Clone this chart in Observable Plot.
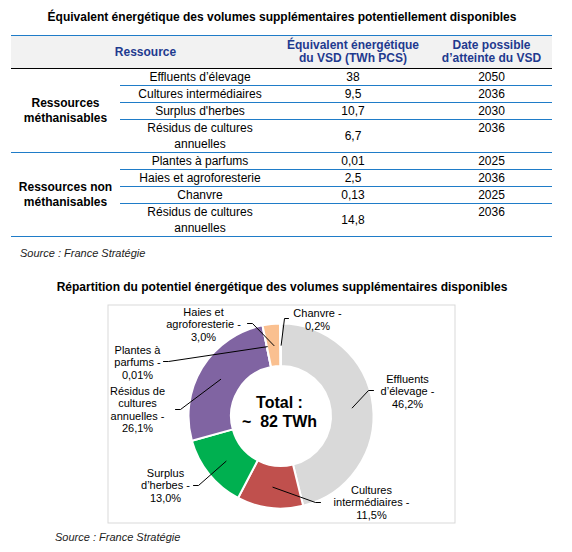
<!DOCTYPE html>
<html>
<head>
<meta charset="utf-8">
<script src="https://cdn.jsdelivr.net/npm/d3@7"></script>
<script src="https://cdn.jsdelivr.net/npm/@observablehq/plot@0.6"></script>
<style>
  body { margin:0; width:572px; height:552px; position:relative; background:#fff;
         font-family: Arial, "Liberation Sans", sans-serif; color:#000; }
  .title { position:absolute; left:0; width:564px; text-align:center; font-weight:bold; font-size:12px; line-height:16px; }
  .source { position:absolute; font-style:italic; font-size:11px; line-height:14px; color:#222; }
  table { position:absolute; left:11px; top:35px; width:541px; border-collapse:separate; border-spacing:0;
          table-layout:fixed; font-size:12px; border-top:1px solid #1f7cc8; }
  th { background:#f2f2f2; color:#1f3a8f; font-weight:bold; height:32px; border-bottom:1px solid #000;
       line-height:13px; padding:0; vertical-align:middle; white-space:pre-line; }
  td { padding:0; line-height:16px; text-align:center; border-bottom:1px solid #1f7cc8; vertical-align:middle; }
  td.grp { font-weight:bold; line-height:15px; white-space:pre-line; }
  td.name { padding:0 7px; }
  td.date { vertical-align:top; padding-left:5px; }
</style>
</head>
<body>
<script>
// ---------- DATA ----------
const tableTitle = "Équivalent énergétique des volumes supplémentaires potentiellement disponibles";
const chartTitle = "Répartition du potentiel énergétique des volumes supplémentaires disponibles";
const sourceText = "Source : France Stratégie";
const headers = ["Ressource", "Équivalent énergétique\ndu VSD (TWh PCS)", "Date possible\nd’atteinte du VSD"];
const groups = ["Ressources\nméthanisables", "Ressources non\nméthanisables"];
const resources = ["Effluents d’élevage", "Cultures intermédiaires", "Surplus d'herbes", "Résidus de cultures annuelles",
                   "Plantes à parfums", "Haies et agroforesterie", "Chanvre", "Résidus de cultures annuelles"];
const resourceGroup = [0, 0, 0, 0, 1, 1, 1, 1];
const vsdTWh = [38, 9.5, 10.7, 6.7, 0.01, 2.5, 0.13, 14.8];
const vsdYear = [2050, 2036, 2030, 2036, 2025, 2036, 2025, 2036];

// donut categories (Résidus = both rows combined)
const pieNames = ["Effluents\nd’élevage", "Cultures\nintermédiaires", "Surplus\nd’herbes", "Résidus de\ncultures\nannuelles",
                  "Plantes à\nparfums", "Haies et\nagroforesterie", "Chanvre"];
const pieRows = [[0], [1], [2], [3, 7], [4], [5], [6]];
const pieColors = ["#d9d9d9", "#c0504d", "#00b050", "#8064a2", "#4bacc6", "#fac090", "#a5a5a5"];

// ---------- LAYOUT (label placement, px relative to donut centre) ----------
const labelPos = [[126, -25], [90, 86], [-116, 69], [-144, -7], [-144, -54], [-78, -92], [36, -97]];
const leaderStart = [[92, -26, -5], [39, 86, -5], [-88, 69, 5], [-106, -7, 5], [-118, -55, 5], [-34, -93, 5], [7, -98, -4]];
const rOuter = 92.5, rInner = 50;

const fmt = v => String(v).replace(".", ",");

// ---------- TITLES / SOURCES ----------
function addDiv(cls, text, style) {
  const d = document.createElement("div");
  d.className = cls; d.textContent = text; Object.assign(d.style, style);
  document.body.appendChild(d); return d;
}
addDiv("title", tableTitle, {top: "9px"});
addDiv("source", sourceText, {left: "20px", top: "246px"});
addDiv("title", chartTitle, {top: "279px"});
addDiv("source", sourceText, {left: "55px", top: "530px"});

// ---------- TABLE ----------
const table = document.createElement("table");
const colgroup = document.createElement("colgroup");
[109, 160, 146, 126].forEach(w => { const c = document.createElement("col"); c.style.width = w + "px"; colgroup.appendChild(c); });
table.appendChild(colgroup);
const thead = document.createElement("tr");
headers.forEach((h, i) => {
  const th = document.createElement("th");
  th.textContent = h;
  if (i === 0) th.colSpan = 2;
  if (i === 2) th.style.paddingLeft = "5px";
  thead.appendChild(th);
});
table.appendChild(thead);
resources.forEach((name, i) => {
  const tr = document.createElement("tr");
  const g = resourceGroup[i];
  if (i === 0 || resourceGroup[i - 1] !== g) {
    const td = document.createElement("td");
    td.className = "grp";
    td.rowSpan = resourceGroup.filter(x => x === g).length;
    td.textContent = groups[g];
    tr.appendChild(td);
  }
  const cells = [[name, "name"], [fmt(vsdTWh[i]), "val"], [String(vsdYear[i]), "date"]];
  cells.forEach(([t, c]) => { const td = document.createElement("td"); td.className = c; td.textContent = t; tr.appendChild(td); });
  table.appendChild(tr);
});
document.body.appendChild(table);

// ---------- DONUT ----------
const pieValues = pieRows.map(rows => d3.sum(rows, r => vsdTWh[r]));
const total = d3.sum(pieValues);
const pct = v => { const p = v / total * 100; return fmt(p < 0.1 ? p.toFixed(2) : p.toFixed(1)) + "%"; };
const arcs = d3.pie().sort(null).value(d => d)(pieValues);
const midArc = d3.arc().innerRadius(rInner).outerRadius(rOuter);

const labels = pieNames.map((n, i) => ({name: n, text: n + " -\n" + pct(pieValues[i]), x: labelPos[i][0], y: labelPos[i][1]}));
const leaders = [];
pieNames.forEach((n, i) => {
  const [sx, sy, e] = leaderStart[i];
  const [cx, cy] = midArc.centroid(arcs[i]);
  leaders.push({k: i, x: sx, y: sy}, {k: i, x: sx + e, y: sy}, {k: i, x: cx, y: cy});
});

function donutMark(index, scales) {
  const cx = scales.x(0), cy = scales.y(0);
  const k = scales.x(1) - scales.x(0);
  const arc = d3.arc().innerRadius(rInner * k).outerRadius(rOuter * k);
  const g = d3.create("svg:g").attr("transform", `translate(${cx},${cy})`);
  g.selectAll("path").data(arcs).join("path")
    .attr("d", arc)
    .attr("fill", (d, i) => pieColors[i])
    .attr("stroke", "#fff").attr("stroke-width", 2).attr("stroke-linejoin", "round");
  return g.node();
}

const chart = Plot.plot({
  width: 348, height: 219,
  margin: 0,
  x: {domain: [-174, 174], range: [0, 348], axis: null},
  y: {domain: [-112, 107], range: [0, 219], axis: null},
  style: {fontFamily: "Arial, 'Liberation Sans', sans-serif", fontSize: "11px", background: "transparent", overflow: "visible"},
  marks: [
    Plot.frame({stroke: "#d9d9d9", inset: 0.5}),
    donutMark,
    Plot.line(leaders, {x: "x", y: "y", z: "k", stroke: "#000", strokeWidth: 1}),
    Plot.text(labels, {x: "x", y: "y", text: "text", lineAnchor: "middle", textAnchor: "middle", lineHeight: 1.12, fill: "#000"}),
    Plot.text([`Total :\n~\u00a0\u00a0${Math.round(total)} TWh`], {x: -2, y: -5.5, text: d => d, lineAnchor: "middle",
      fontSize: 16, fontWeight: "bold", lineHeight: 1.2, fill: "#000"})
  ]
});
chart.style.position = "absolute";
chart.style.left = "107px";
chart.style.top = "304px";
document.body.appendChild(chart);
</script>
</body>
</html>
